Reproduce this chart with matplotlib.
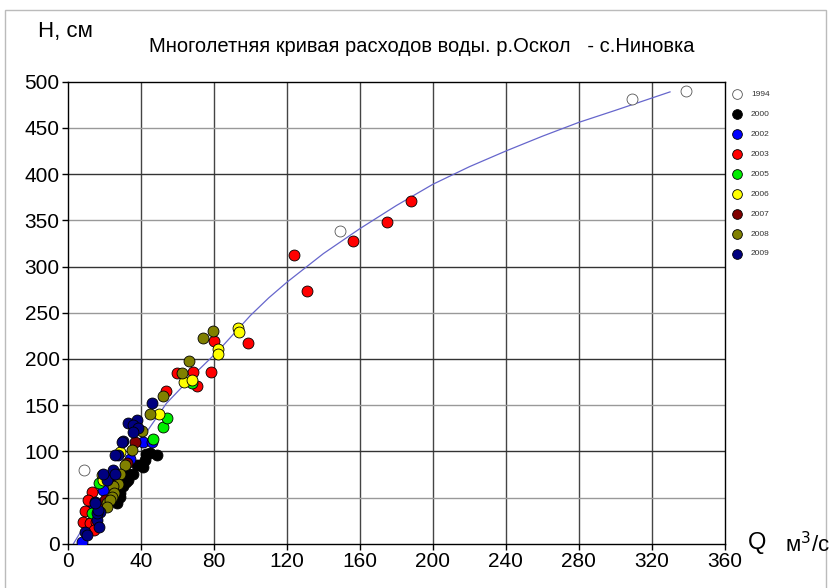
import matplotlib.pyplot as plt
from matplotlib.patches import Rectangle

plt.rcParams['font.family'] = ['Liberation Sans', 'DejaVu Sans']

#%% Data (Q, m3/s ; H, cm)
years = ['1994', '2000', '2002', '2003', '2005', '2006', '2007', '2008', '2009']
colors = ['white', 'black', '#0000ff', '#ff0000', '#00ee00', '#ffff00',
          '#800000', '#808000', '#000080']

q_1994 = [8.8, 149, 309, 339]
h_1994 = [80, 338, 481, 490]

q_2000 = [48.6, 45, 43, 42.2, 39.5, 41.3, 37.6, 35.4, 33, 33, 32, 30.3, 28.5, 28.5, 26.7, 26.7]
h_2000 = [96, 98, 97, 90.6, 85, 83, 85, 76, 76, 69, 67, 62, 54.5, 51, 47, 43.7]

q_2002 = [7.5, 41.3, 34, 19.4, 12, 46]
h_2002 = [2, 110, 92, 58, 35, 110]

q_2003 = [98.8, 80, 59.5, 68.7, 78.4, 70.5, 54, 188, 175, 156, 124, 131,
          13, 11, 9.3, 8.4, 12, 15.3, 14, 17.5]
h_2003 = [217.5, 219.7, 185, 185.5, 186, 171, 165, 371, 348, 328, 313, 273,
          56, 47, 35, 23, 22, 24, 15, 40]

q_2005 = [46.4, 51.9, 54.4, 67.8, 13, 17]
h_2005 = [113, 126.6, 135.7, 173.6, 33, 66]

q_2006 = [93, 93.5, 82, 82.4, 63.7, 67.8, 50, 28.5, 19.4, 18.6, 19.4]
h_2006 = [233, 229, 211, 205, 175, 177, 140, 99.6, 72.5, 74, 69]

q_2007 = [36.7, 32.1, 20.5, 25]
h_2007 = [110, 87, 47, 70]

q_2008 = [79.6, 74, 66.3, 62.6, 52.2, 45, 40.4, 34.9, 31.2, 28.5, 27.6, 24.8,
          25, 23.9, 21.2, 23, 21.2]
h_2008 = [230.5, 223, 197.7, 184.4, 160, 140, 122, 101, 85, 76, 65, 62,
          54.5, 51, 43.7, 47, 40]

q_2009 = [45.8, 37.6, 33, 35.8, 38.5, 35.8, 30, 29.4, 27.6, 25.8, 22, 21.4,
          24.8, 26, 19.4, 17.5, 15.7, 15.9, 16.6, 14.8, 15, 9.3, 10.4, 16.8]
h_2009 = [152, 134, 131, 128.5, 125, 121, 111.5, 110, 96, 96, 70.8, 69,
          80, 76, 76, 34.6, 25.6, 33, 36.5, 45.5, 44, 13, 9.4, 18]

# rating curve
q_curve = [3, 20, 40, 54, 70, 82, 100, 110, 120, 140, 160, 180, 200, 220,
           240, 260, 280, 300, 330]
h_curve = [0, 55, 112, 152, 185, 208, 247, 266, 283, 314, 341, 366, 389, 408,
           425, 441, 456, 469, 489]

#%% Plot
fig = plt.figure(figsize=(8.34, 5.88), dpi=100)
ax = fig.add_axes([0.0815, 0.0753, 0.7875, 0.7857])

ax.set_xlim(0, 360)
ax.set_ylim(0, 500)
ax.set_xticks(range(0, 361, 40))
ax.set_yticks(range(0, 501, 50))
for v in range(40, 360, 40):
    ax.axvline(v, color='#444444', lw=1, zorder=1)
for v in range(50, 500, 50):
    ax.axhline(v, color='#333333' if v % 100 == 0 else '#999999', lw=1, zorder=1)
for s in ax.spines.values():
    s.set_color('black')
    s.set_linewidth(1)
ax.tick_params(labelsize=15, length=4, width=1, pad=2)

ax.plot(q_curve, h_curve, color='#6666cc', lw=0.9, zorder=2)

series = [(q_1994, h_1994), (q_2000, h_2000), (q_2002, h_2002), (q_2003, h_2003),
          (q_2005, h_2005), (q_2006, h_2006), (q_2007, h_2007), (q_2008, h_2008),
          (q_2009, h_2009)]
for (q, h), c in zip(series, colors):
    ec = '#555555' if c == 'white' else 'black'
    ax.scatter(q, h, s=62, c=c, edgecolors=ec, linewidths=0.6, zorder=3)

# legend drawn by hand on the right
for i, (yr, c) in enumerate(zip(years, colors)):
    y = 1 - (94 + 20 * i) / 588
    ec = '#555555' if c == 'white' else 'black'
    fig.add_artist(plt.Line2D([737 / 834], [y], marker='o', markersize=7,
                              markerfacecolor=c, markeredgecolor=ec,
                              markeredgewidth=0.6, transform=fig.transFigure))
    fig.text(751 / 834, y, yr, fontsize=6, va='center', ha='left', color='#333333')

# labels
fig.text(38 / 834, 1 - 32 / 588, 'Н, см', fontsize=16, va='center', ha='left')
fig.text(422 / 834, 1 - 47 / 588, 'Многолетняя кривая расходов воды. р.Оскол   - с.Ниновка',
         fontsize=14.5, va='center', ha='center')
fig.text(748 / 834, 1 - 543 / 588, 'Q', fontsize=17, va='center', ha='left')
fig.text(785 / 834, 1 - 545 / 588, 'м$^3$/с', fontsize=16, va='center', ha='left')

# outer frame
fig.add_artist(Rectangle((5 / 834, -0.01), 821 / 834, 1 - 10 / 588 + 0.01,
                         transform=fig.transFigure, fill=False,
                         edgecolor='#bbbbbb', lw=1))

fig.savefig('out.png', dpi=100)
